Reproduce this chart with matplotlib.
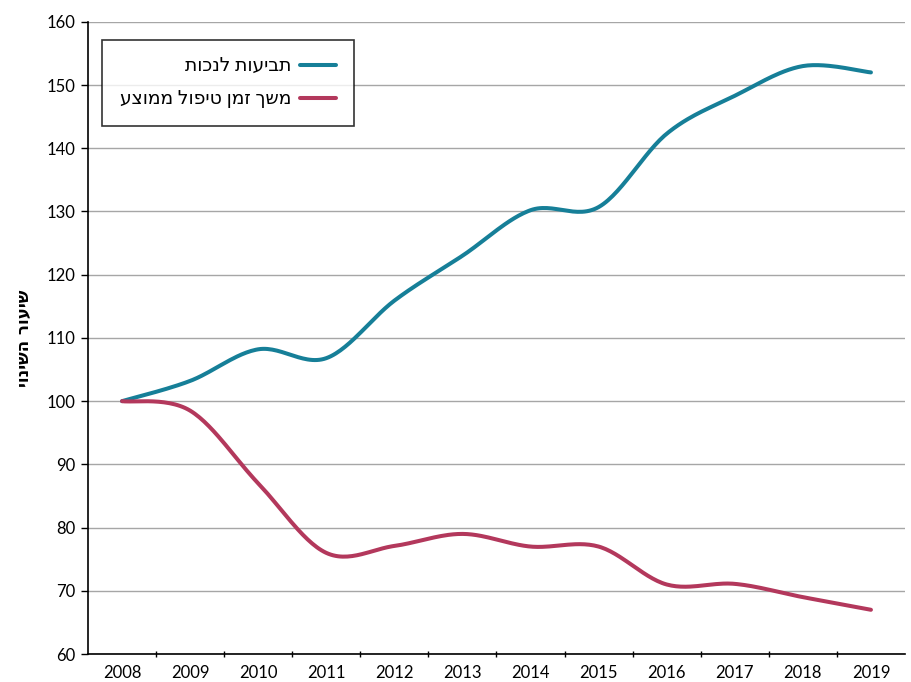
import numpy as np
import matplotlib.pyplot as plt

plt.rcParams['font.family'] = ['Lato', 'DejaVu Sans']

years = ['2008', '2009', '2010', '2011', '2012', '2013', '2014', '2015', '2016', '2017', '2018', '2019']
claims = [100, 103.2, 108.2, 106.8, 115.9, 123, 130.2, 130.7, 142.3, 148.3, 153, 152]
duration = [100, 98.5, 87, 76, 77.1, 79, 77, 77, 71, 71.1, 69, 67]

claims_label = 'תביעות לנכות'
duration_label = 'משך זמן טיפול ממוצע'
ylabel = 'שיעור השינוי'


def rtl(s):
    # matplotlib has no bidi support, so put hebrew in visual order
    return s[::-1]


def smooth(y, n=30):
    # Catmull-Rom curve through the points, like excel's smoothed line
    x = np.arange(len(y), dtype=float)
    y = np.asarray(y, dtype=float)
    px = np.concatenate([[x[0]], x, [x[-1]]])
    py = np.concatenate([[y[0]], y, [y[-1]]])
    xs, ys = [], []
    t = np.linspace(0, 1, n)
    for i in range(1, len(px) - 2):
        for p, out in ((px, xs), (py, ys)):
            p0, p1, p2, p3 = p[i - 1], p[i], p[i + 1], p[i + 2]
            c1 = p1 + (p2 - p0) / 6
            c2 = p2 - (p3 - p1) / 6
            out.extend((1 - t) ** 3 * p1 + 3 * (1 - t) ** 2 * t * c1
                       + 3 * (1 - t) * t ** 2 * c2 + t ** 3 * p2)
    return xs, ys


fig = plt.figure(figsize=(9.11, 6.82), dpi=100)
ax = fig.add_axes([0.0966, 0.041, 0.8968, 0.927])

xs, ys = smooth(claims)
ax.plot(xs, ys, color='#167F98', linewidth=2.9, label=rtl(claims_label), solid_capstyle='round')
xs, ys = smooth(duration)
ax.plot(xs, ys, color='#B3385C', linewidth=2.9, label=rtl(duration_label), solid_capstyle='round')

ax.set_xlim(-0.5, len(years) - 0.5)
ax.set_ylim(60, 160)
ax.set_yticks(range(60, 161, 10))
ax.set_xticks(range(len(years)))
ax.set_xticklabels(years)
ax.set_xticks(np.arange(0.5, len(years) - 0.5, 1), minor=True)
ax.tick_params(axis='x', which='major', length=0, pad=8, labelsize=12)
ax.tick_params(axis='x', which='minor', length=5, direction='inout', width=1)
ax.tick_params(axis='y', length=5, direction='out', width=1, labelsize=12, pad=4)

ax.yaxis.grid(True, color='#A6A6A6', linewidth=1)
ax.set_axisbelow(True)
for s in ['top', 'right']:
    ax.spines[s].set_visible(False)
ax.spines['left'].set_linewidth(1.2)
ax.spines['bottom'].set_linewidth(1.2)

ax.set_ylabel(rtl(ylabel), rotation=90, fontweight='bold', fontsize=12,
              family='DejaVu Sans', va='center')
ax.yaxis.set_label_coords(-0.078, 0.5)

leg = ax.legend(loc='upper left', bbox_to_anchor=(0.017, 0.972), markerfirst=False,
                fontsize=13.5, frameon=True, fancybox=False, handlelength=1.9,
                handletextpad=0.5, borderpad=0.95, labelspacing=0.85, borderaxespad=0)
leg.get_frame().set_edgecolor('black')
leg.get_frame().set_linewidth(1.2)
for t in leg.get_texts():
    t.set_ha('right')

fig.savefig('out.png', dpi=100)
